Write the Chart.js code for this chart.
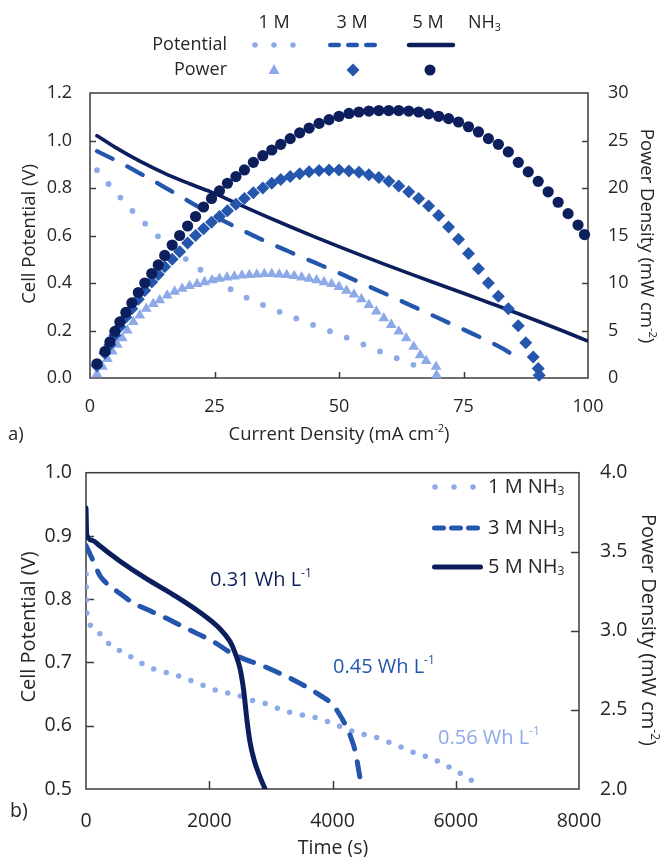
<!DOCTYPE html>
<html>
<head>
<meta charset="utf-8">
<script src="https://cdn.jsdelivr.net/npm/chart.js@4.4.1/dist/chart.umd.min.js"></script>
<style>
html, body { margin: 0; padding: 0; background: #fff; }
#wrap { position: relative; width: 667px; height: 857px; overflow: hidden; }
#chartA { position: absolute; left: 0; top: 0; }
#chartB { position: absolute; left: 0; top: 440px; }
</style>
</head>
<body>
<div id="wrap">
  <canvas id="chartA" width="667" height="452"></canvas>
  <canvas id="chartB" width="667" height="417"></canvas>
</div>
<script>
// Colori delle tre concentrazioni
const LIGHT = '#8da9e8';
const MID = '#2456ad';
const DARK = '#0c1f5c';
const TEXT = '#262626';
const AXIS = '#3c3c3c';
const FONT = "'Open Sans', 'Noto Sans', sans-serif";

// ---- Panel a: polarization curves (current density, mA cm-2) ----
const pot1M_x = [1.4, 4, 6.5, 9, 11.7, 15, 20.4, 25, 30.1, 33.5, 37.1, 40.8, 44.2, 47.9, 51.5, 54.9, 58.2, 61.9, 65.6, 67.5];
const pot1M_y = [0.875, 0.81, 0.75, 0.693, 0.637, 0.57, 0.483, 0.415, 0.352, 0.319, 0.287, 0.256, 0.228, 0.199, 0.17, 0.141, 0.112, 0.081, 0.05, 0.033];
const pot3M_x = [1.4, 5, 10, 15, 20, 25, 30, 35, 40, 45, 50, 55, 60, 65, 70, 75, 80, 84, 86.5];
const pot3M_y = [0.955, 0.918, 0.862, 0.803, 0.742, 0.682, 0.628, 0.578, 0.532, 0.487, 0.442, 0.395, 0.348, 0.3, 0.252, 0.204, 0.155, 0.11, 0.07];
const pot5M_x = [1.4, 5, 10, 15, 20, 25, 30, 35, 40, 45, 50, 55, 60, 65, 70, 75, 80, 85, 90, 95, 100];
const pot5M_y = [1.02, 0.972, 0.913, 0.862, 0.818, 0.777, 0.73, 0.684, 0.639, 0.595, 0.553, 0.512, 0.472, 0.433, 0.395, 0.357, 0.318, 0.279, 0.239, 0.198, 0.155];

const pow1M_x = [1.4, 2.5, 3.5, 4.5, 5.5, 6.5, 7.5, 8.7, 10, 11.3, 12.7, 14, 15.5, 17, 18.5, 20, 21.5, 23, 24.5, 26,
  27.5, 29, 30.5, 32, 33.5, 35, 36.5, 38, 39.5, 41, 42.5, 44, 45.5, 47, 48.5, 50, 51.5, 53, 54.5, 56,
  57.5, 59, 60.5, 62, 63.5, 65, 66.3, 67.5, 69.5, 69.6];
const pow1M_y = [0.4, 1.2, 2.0, 2.8, 3.5, 4.2, 5.0, 5.9, 6.6, 7.3, 7.8, 8.2, 8.7, 9.1, 9.4, 9.7, 9.9, 10.1, 10.3, 10.45,
  10.6, 10.7, 10.8, 10.85, 10.9, 10.95, 10.95, 10.9, 10.85, 10.75, 10.6, 10.45, 10.3, 10.1, 9.9, 9.6, 9.2, 8.8, 8.3, 7.7,
  7.0, 6.3, 5.6, 4.9, 4.2, 3.3, 2.4, 1.8, 1.2, 0.3];
const pow3M_x = [1.4, 3, 4, 5, 6, 7.2, 8.4, 9.7, 11, 12.4, 13.7, 15, 16.5, 18, 19.6, 21.2, 22.8, 24.4, 26, 27.6,
  29.3, 31, 32.8, 34.7, 36.5, 38.3, 40.2, 42.1, 44, 46, 48, 50, 52, 54, 56, 58, 60, 62, 64, 66,
  68, 70, 72, 74, 76, 78, 80, 82, 84, 86, 87.5, 89, 90, 90.2];
const pow3M_y = [1.3, 2.6, 3.5, 4.5, 5.4, 6.4, 7.3, 8.3, 9.2, 10.1, 10.9, 11.7, 12.5, 13.3, 14.2, 15.0, 15.7, 16.4, 17.0, 17.6,
  18.3, 18.9, 19.5, 20.0, 20.5, 20.9, 21.2, 21.5, 21.7, 21.85, 21.9, 21.9, 21.8, 21.65, 21.4, 21.1, 20.7, 20.2, 19.6, 18.9,
  18.1, 17.1, 15.9, 14.6, 13.1, 11.5, 10.0, 8.6, 7.3, 5.5, 3.7, 2.2, 1.0, 0.3];
const pow5M_x = [1.4, 3, 4, 5, 6, 7.2, 8.4, 9.7, 11, 12.4, 13.7, 15, 16.5, 18, 19.6, 21.2, 22.8, 24.4, 26, 27.6,
  29.3, 31, 32.8, 34.7, 36.5, 38.3, 40.2, 42.1, 44, 46, 48, 50, 52, 54, 56, 58, 60, 62, 64, 66,
  68, 70, 72, 74, 76, 78, 80, 82, 84, 86, 88, 90, 92, 94, 96, 98, 99.3];
const pow5M_y = [1.5, 2.8, 3.8, 4.9, 5.9, 6.9, 7.9, 9.0, 10.0, 11.0, 11.9, 12.9, 14.0, 15.0, 16.0, 17.0, 18.0, 18.9, 19.7, 20.5,
  21.2, 21.9, 22.7, 23.4, 24.0, 24.6, 25.2, 25.8, 26.3, 26.8, 27.2, 27.55, 27.85, 28.0, 28.1, 28.15, 28.15, 28.15, 28.1, 28.0,
  27.8, 27.55, 27.3, 26.95, 26.45, 25.9, 25.2, 24.6, 23.8, 22.7, 21.7, 20.7, 19.6, 18.5, 17.3, 16.1, 15.1];

// ---- Panel b: discharge curves (time, s) ----
const t1M = [0, 15, 92, 227, 390, 660, 877, 1093, 1310, 1553, 1850, 2175, 2446, 2662, 2878, 3095, 3312, 3555, 3799, 4015,
  4421, 4665, 4881, 5097, 5313, 5530, 5747, 5963, 6153, 6342];
const v1M = [0.84, 0.775, 0.758, 0.745, 0.728, 0.713, 0.70, 0.69, 0.684, 0.677, 0.666, 0.654, 0.649, 0.641, 0.636, 0.628, 0.621, 0.616, 0.611, 0.603,
  0.588, 0.583, 0.575, 0.567, 0.558, 0.551, 0.542, 0.531, 0.52, 0.508];
const t3M = [0, 119, 227, 336, 552, 768, 985, 1256, 1526, 1797, 2067, 2392, 2933, 3474, 3800, 4015, 4150, 4286, 4367, 4460];
const v3M = [0.885, 0.86, 0.837, 0.825, 0.809, 0.794, 0.784, 0.772, 0.759, 0.746, 0.733, 0.713, 0.692, 0.667, 0.648, 0.632, 0.612, 0.585, 0.56, 0.51];
const t5M = [0, 12, 100, 227, 400, 552, 985, 1418, 1851, 2175, 2338, 2420, 2500, 2560, 2610, 2660, 2730, 2820, 2906];
const v5M = [0.944, 0.902, 0.893, 0.884, 0.871, 0.86, 0.832, 0.807, 0.779, 0.753, 0.733, 0.715, 0.69, 0.655, 0.61, 0.575, 0.545, 0.52, 0.5];

// Testi (segmenti: 0 normale, 1 apice, -1 pedice)
const TITLE_CD = [['Current Density (mA cm', 0], ['-2', 1], [')', 0]];
const TITLE_POT = [['Cell Potential (V)', 0]];
const TITLE_PD = [['Power Density (mW cm', 0], ['-2', 1], [')', 0]];
const TITLE_TIME = [['Time (s)', 0]];
const conc = ['1 M', '3 M', '5 M'];
const energy = ['0.56', '0.45', '0.31'];

const toXY = (xs, ys) => xs.map((x, i) => ({ x: x, y: ys[i] }));

// Disegna testo con apici/pedici
function drawRich(ctx, segs, x, y, size, color, align) {
    const fontOf = s => (s ? size * 0.6 : size) + 'px ' + FONT;
    let total = 0;
    segs.forEach(([t, s]) => { ctx.font = fontOf(s); total += ctx.measureText(t).width; });
    let cx = align === 'center' ? x - total / 2 : (align === 'right' ? x - total : x);
    ctx.fillStyle = color;
    ctx.textAlign = 'left';
    ctx.textBaseline = 'middle';
    segs.forEach(([t, s]) => {
        ctx.font = fontOf(s);
        const dy = s === 1 ? -size * 0.33 : (s === -1 ? size * 0.25 : 0);
        ctx.fillText(t, cx, y + dy);
        cx += ctx.measureText(t).width;
    });
}

function drawRotated(ctx, segs, x, y, size, color, angle) {
    ctx.save();
    ctx.translate(x, y);
    ctx.rotate(angle);
    drawRich(ctx, segs, 0, 0, size, color, 'center');
    ctx.restore();
}

function strokeSeg(ctx, x1, x2, y, color, width, dash) {
    ctx.save();
    ctx.strokeStyle = color;
    ctx.lineWidth = width;
    ctx.lineCap = 'round';
    ctx.setLineDash(dash);
    ctx.beginPath();
    ctx.moveTo(x1, y);
    ctx.lineTo(x2, y);
    ctx.stroke();
    ctx.restore();
}

// Riquadro e tacche interne
const framePlugin = {
    id: 'frame',
    beforeDatasetsDraw(chart, args, opts) {
        const ctx = chart.ctx;
        const a = chart.chartArea;
        ctx.save();
        ctx.strokeStyle = AXIS;
        ctx.lineWidth = 1.5;
        ctx.strokeRect(a.left, a.top, a.right - a.left, a.bottom - a.top);
        Object.values(chart.scales).forEach(s => {
            const n = s.ticks.length;
            s.ticks.forEach((t, i) => {
                if (i === 0 || i === n - 1) return;
                const p = Math.round(s.getPixelForValue(t.value)) + 0.5;
                ctx.beginPath();
                if (s.position === 'bottom') { ctx.moveTo(p, a.bottom); ctx.lineTo(p, a.bottom - opts.len); }
                else if (s.position === 'left') { ctx.moveTo(a.left, p); ctx.lineTo(a.left + opts.len, p); }
                else { ctx.moveTo(a.right, p); ctx.lineTo(a.right - opts.len, p); }
                ctx.stroke();
            });
        });
        ctx.restore();
    },
    afterDraw(chart, args, opts) {
        if (opts.draw) opts.draw(chart.ctx, chart);
    }
};

Chart.defaults.font.family = FONT;
Chart.defaults.color = TEXT;

function axis(pos, min, max, step, size, pad, fmt, fit) {
    return {
        type: 'linear', position: pos, min: min, max: max, display: true,
        grid: { display: false, drawTicks: false },
        border: { display: false },
        ticks: { stepSize: step, padding: pad, font: { size: size }, color: TEXT,
                 maxRotation: 0, autoSkip: false, callback: fmt },
        afterFit: fit
    };
}

// ---------------- Chart a ----------------
function drawLegendA(ctx) {
    ctx.save();
    const xs = [274, 352, 428];
    conc.forEach((c, i) => drawRich(ctx, [[c, 0]], xs[i], 23, 18, TEXT, 'center'));
    drawRich(ctx, [['NH', 0], ['3', -1]], 468, 23, 18, TEXT, 'left');
    drawRich(ctx, [['Potential', 0]], 227, 45, 18, TEXT, 'right');
    drawRich(ctx, [['Power', 0]], 227, 70, 18, TEXT, 'right');
    strokeSeg(ctx, 255, 294, 45, LIGHT, 5.5, [0, 19]);
    strokeSeg(ctx, 330.25, 375, 45, MID, 4.5, [8.5, 9.5]);
    strokeSeg(ctx, 409, 453, 45, DARK, 4.5, []);
    // marcatori
    ctx.fillStyle = LIGHT;
    ctx.beginPath(); ctx.moveTo(274, 64); ctx.lineTo(279.5, 74); ctx.lineTo(268.5, 74); ctx.closePath(); ctx.fill();
    ctx.fillStyle = MID;
    ctx.beginPath(); ctx.moveTo(353, 63.5); ctx.lineTo(359.5, 70); ctx.lineTo(353, 76.5); ctx.lineTo(346.5, 70); ctx.closePath(); ctx.fill();
    ctx.fillStyle = DARK;
    ctx.beginPath(); ctx.arc(430, 70, 5.5, 0, Math.PI * 2); ctx.fill();
    // titoli degli assi
    drawRotated(ctx, TITLE_POT, 30, 234, 18.5, TEXT, -Math.PI / 2);
    drawRotated(ctx, TITLE_PD, 646, 236, 18.5, TEXT, Math.PI / 2);
    drawRich(ctx, TITLE_CD, 339, 435, 18.5, TEXT, 'center');
    drawRich(ctx, [['a)', 0]], 8, 435, 18.5, TEXT, 'left');
    ctx.restore();
}

const markerBase = { showLine: false, pointBorderWidth: 0, clip: false, yAxisID: 'yP' };
const lineBase = { showLine: true, pointRadius: 0, fill: false, cubicInterpolationMode: 'monotone', borderCapStyle: 'round', yAxisID: 'y' };

new Chart(document.getElementById('chartA'), {
    type: 'scatter',
    data: {
        datasets: [
            Object.assign({ label: '5 M power', data: toXY(pow5M_x, pow5M_y), pointStyle: 'circle', pointRadius: 5.6,
                pointBackgroundColor: DARK, pointBorderColor: DARK, order: 0 }, markerBase),
            Object.assign({ label: '3 M power', data: toXY(pow3M_x, pow3M_y), pointStyle: 'rectRot', pointRadius: 6.5,
                pointBackgroundColor: MID, pointBorderColor: MID, order: 1 }, markerBase),
            Object.assign({ label: '1 M power', data: toXY(pow1M_x, pow1M_y), pointStyle: 'triangle', pointRadius: 6.2,
                pointBackgroundColor: LIGHT, pointBorderColor: LIGHT, order: 2 }, markerBase),
            Object.assign({ label: '5 M potential', data: toXY(pot5M_x, pot5M_y), borderColor: DARK, borderWidth: 3.6,
                borderDash: [], order: 3 }, lineBase),
            Object.assign({ label: '3 M potential', data: toXY(pot3M_x, pot3M_y), borderColor: MID, borderWidth: 4.3,
                borderDash: [17.5, 16.5], order: 4 }, lineBase),
            Object.assign({ label: '1 M potential', data: toXY(pot1M_x, pot1M_y), borderColor: LIGHT, borderWidth: 5.8,
                borderDash: [0, 18], order: 5 }, lineBase)
        ]
    },
    options: {
        responsive: false,
        animation: false,
        devicePixelRatio: 1,
        layout: { padding: { top: 93, left: 0, right: 0, bottom: 0 }, autoPadding: false },
        plugins: {
            legend: { display: false },
            tooltip: { enabled: false },
            frame: { len: 6, draw: drawLegendA }
        },
        scales: {
            x: axis('bottom', 0, 100, 25, 18, 18, v => String(v), s => { s.height = 74; }),
            y: axis('left', 0, 1.2, 0.2, 18, 18, v => v.toFixed(1), s => { s.width = 90; }),
            yP: axis('right', 0, 30, 5, 18, 20, v => String(v), s => { s.width = 79; })
        }
    },
    plugins: [framePlugin]
});

// ---------------- Chart b ----------------
function drawLegendB(ctx) {
    ctx.save();
    strokeSeg(ctx, 435, 474, 47, LIGHT, 5.5, [0, 19]);
    strokeSeg(ctx, 434.5, 480, 88, MID, 5, [9, 8]);
    strokeSeg(ctx, 434.5, 480.5, 127, DARK, 5, []);
    [47, 88, 127].forEach((y, i) => drawRich(ctx, [[conc[i] + ' NH', 0], ['3', -1]], 488, y, 20, TEXT, 'left'));
    // energie specifiche
    const unit = [[' Wh L', 0], ['-1', 1]];
    drawRich(ctx, [[energy[2], 0]].concat(unit), 210, 140, 20, DARK, 'left');
    drawRich(ctx, [[energy[1], 0]].concat(unit), 333, 227, 20, MID, 'left');
    drawRich(ctx, [[energy[0], 0]].concat(unit), 438, 298, 20, LIGHT, 'left');
    // titoli degli assi
    drawRotated(ctx, TITLE_POT, 29, 187, 20, TEXT, -Math.PI / 2);
    drawRotated(ctx, TITLE_PD, 648, 190, 20, TEXT, Math.PI / 2);
    drawRich(ctx, TITLE_TIME, 333, 408, 19.5, TEXT, 'center');
    drawRich(ctx, [['b)', 0]], 10, 371, 19.5, TEXT, 'left');
    ctx.restore();
}

const lineB = { showLine: true, pointRadius: 0, fill: false, cubicInterpolationMode: 'monotone', borderCapStyle: 'round', yAxisID: 'y' };

new Chart(document.getElementById('chartB'), {
    type: 'scatter',
    data: {
        datasets: [
            Object.assign({ label: '5 M NH3', data: toXY(t5M, v5M), borderColor: DARK, borderWidth: 5, borderDash: [], order: 0 }, lineB),
            Object.assign({ label: '3 M NH3', data: toXY(t3M, v3M), borderColor: MID, borderWidth: 5, borderDash: [15, 13], order: 1 }, lineB),
            Object.assign({ label: '1 M NH3', data: toXY(t1M, v1M), borderColor: LIGHT, borderWidth: 5.5, borderDash: [0, 13], order: 2 }, lineB)
        ]
    },
    options: {
        responsive: false,
        animation: false,
        devicePixelRatio: 1,
        layout: { padding: { top: 22, left: 0, right: 0, bottom: 0 }, autoPadding: false },
        plugins: {
            legend: { display: false },
            tooltip: { enabled: false },
            frame: { len: 8, draw: drawLegendB }
        },
        scales: {
            x: axis('bottom', 0, 8000, 2000, 19.5, 21, v => String(v), s => { s.height = 68; }),
            y: axis('left', 0.5, 1.0, 0.1, 19.5, 14, v => v.toFixed(1), s => { s.width = 86; }),
            yR: axis('right', 2.0, 4.0, 0.5, 19.5, 21, v => v.toFixed(1), s => { s.width = 88; })
        }
    },
    plugins: [framePlugin]
});
</script>
</body>
</html>
